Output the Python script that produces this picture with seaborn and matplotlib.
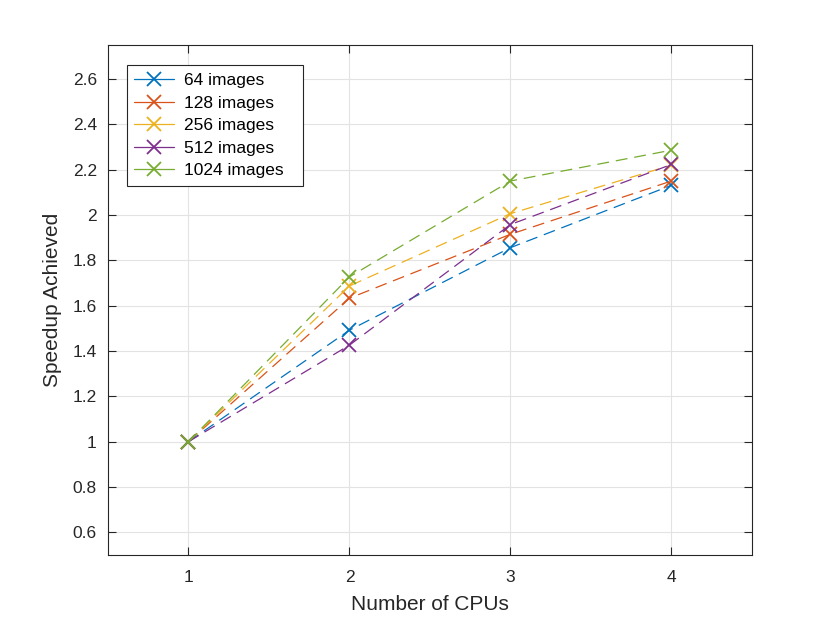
import matplotlib
matplotlib.use("Agg")
import matplotlib.pyplot as plt
from matplotlib.lines import Line2D
from matplotlib.patches import Rectangle
from matplotlib.transforms import IdentityTransform
import seaborn as sns
import pandas as pd

cpus = [1, 2, 3, 4]
series_names = ["64 images", "128 images", "256 images", "512 images", "1024 images"]
s64 = [1.0, 1.492, 1.856, 2.131]
s128 = [1.0, 1.633, 1.915, 2.150]
s256 = [1.0, 1.687, 2.006, 2.220]
s512 = [1.0, 1.426, 1.958, 2.223]
s1024 = [1.0, 1.727, 2.150, 2.286]
colors = ["#0072BD", "#D95319", "#EDB120", "#7E2F8E", "#77AC30"]
yticks = [0.6, 0.8, 1.0, 1.2, 1.4, 1.6, 1.8, 2.0, 2.2, 2.4, 2.6]
ytick_labels = ["0.6", "0.8", "1", "1.2", "1.4", "1.6", "1.8", "2", "2.2", "2.4", "2.6"]

sns.set_theme(style="white")
plt.rcParams['font.family'] = ['Liberation Sans', 'DejaVu Sans']

rows = []
for name, vals in zip(series_names, [s64, s128, s256, s512, s1024]):
    for c, v in zip(cpus, vals):
        rows.append({"CPUs": c, "Speedup": v, "Series": name})
df = pd.DataFrame(rows)

fig = plt.figure(figsize=(8.3, 6.23), dpi=100)
ax = fig.add_axes([0.1301, 0.1091, 0.906 - 0.1301, 0.9278 - 0.1091])

lw = 0.9
for name, col in zip(series_names, colors):
    sub = df[df["Series"] == name]
    sns.lineplot(data=sub, x="CPUs", y="Speedup", ax=ax, color=col,
                 linewidth=lw, marker="x", markersize=9.5, markeredgewidth=1.3,
                 markeredgecolor=col, legend=False, zorder=3)
for line in ax.get_lines():
    line.set_dashes((9.5, 5.5))

ax.set_xlim(0.5, 4.5)
ax.set_ylim(0.5, 2.75)
ax.set_xticks(cpus)
ax.set_xticklabels([str(c) for c in cpus])
ax.set_yticks(yticks)
ax.set_yticklabels(ytick_labels)
ax.grid(True, color="#e3e3e3", linewidth=0.8)
ax.set_axisbelow(True)
for sp in ax.spines.values():
    sp.set_visible(True)
    sp.set_color("#262626")
    sp.set_linewidth(0.8)
ax.tick_params(direction="in", length=5.5, width=0.8, color="#262626",
               labelsize=12.5, labelcolor="#262626", top=True, right=True,
               bottom=True, left=True, pad=8)
ax.tick_params(axis="x", pad=11)
ax.set_xlabel("Number of CPUs", fontsize=15, color="#262626", labelpad=7)
ax.set_ylabel("Speedup Achieved", fontsize=15, color="#262626", labelpad=8)

handles = [Line2D([], [], color=c, linewidth=lw, marker="x", markersize=9.5,
                  markeredgewidth=1.3) for c in colors]
leg = ax.legend(handles, series_names, loc="upper left", bbox_to_anchor=(0.029, 0.96),
                fontsize=12.5, frameon=True, fancybox=False, handlelength=2.3,
                handletextpad=0.55, labelspacing=0.42, borderpad=0.45, borderaxespad=0)
leg.set_zorder(6)
for t in leg.get_texts():
    t.set_color("black")

fig.canvas.draw()
bb = leg.get_window_extent()
leg.get_frame().set_visible(False)
box = Rectangle((bb.x0, bb.y0), bb.width + 12, bb.height, transform=IdentityTransform(),
                facecolor="white", edgecolor="#262626", linewidth=0.8,
                zorder=5.5, clip_on=False)
ax.add_artist(box)

fig.savefig("out.png", dpi=100, facecolor="white")
